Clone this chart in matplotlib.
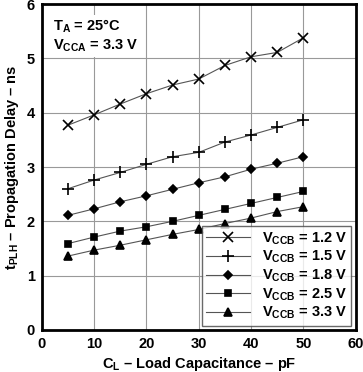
import matplotlib
matplotlib.use('Agg')
import matplotlib.pyplot as plt

plt.rcParams['font.family'] = ['Liberation Sans', 'DejaVu Sans']
plt.rcParams['font.weight'] = 'bold'
plt.rcParams['mathtext.fontset'] = 'custom'
plt.rcParams['mathtext.rm'] = 'Liberation Sans:bold'
plt.rcParams['mathtext.bf'] = 'Liberation Sans:bold'

cap = [5, 10, 15, 20, 25, 30, 35, 40, 45, 50]
vccb_12 = [3.77, 3.96, 4.16, 4.35, 4.51, 4.62, 4.87, 5.03, 5.11, 5.38]
vccb_15 = [2.60, 2.76, 2.90, 3.05, 3.19, 3.27, 3.46, 3.59, 3.73, 3.87]
vccb_18 = [2.11, 2.23, 2.36, 2.47, 2.59, 2.71, 2.82, 2.96, 3.07, 3.19]
vccb_25 = [1.59, 1.71, 1.82, 1.90, 2.00, 2.11, 2.22, 2.33, 2.44, 2.55]
vccb_33 = [1.36, 1.47, 1.56, 1.66, 1.76, 1.85, 1.96, 2.06, 2.18, 2.27]
labels = ['1.2 V', '1.5 V', '1.8 V', '2.5 V', '3.3 V']

fig = plt.figure(figsize=(3.63, 3.72), dpi=100)
ax = fig.add_axes([0.115, 0.113, 0.865, 0.876])

series = [(vccb_12, 'x', 7), (vccb_15, '+', 8), (vccb_18, 'D', 4.5),
          (vccb_25, 's', 5), (vccb_33, '^', 5.5)]
for (vals, mk, ms), lab in zip(series, labels):
    ax.plot(cap, vals, color='#555555', lw=0.8, marker=mk, ms=ms,
            mfc='black', mec='black', mew=1.2,
            label=r'$\mathregular{V_{CCB}}$' + ' = ' + lab)

ax.set_xlim(0, 60)
ax.set_ylim(0, 6)
ax.set_xticks(range(0, 61, 10))
ax.set_yticks(range(0, 7))
ax.grid(True, color='#999999', lw=0.8)
ax.tick_params(length=0, labelsize=10.5, pad=5)
for lbl in ax.get_xticklabels() + ax.get_yticklabels():
    lbl.set_fontweight('bold')
for s in ax.spines.values():
    s.set_linewidth(2)

ax.set_xlabel(r'$\mathregular{C_L}$ – Load Capacitance – pF', fontsize=10.5,
              fontweight='bold')
ax.xaxis.set_label_coords(0.5, -0.078)
ax.set_ylabel(r'$\mathregular{t_{PLH}}$ – Propagation Delay – ns', fontsize=10.5,
              fontweight='bold', labelpad=4)

ax.text(2.2, 5.75, r'$\mathregular{T_A}$ = 25°C' + '\n' + r'$\mathregular{V_{CCA}}$ = 3.3 V',
        fontsize=10.5, fontweight='bold', va='top', ha='left',
        bbox=dict(facecolor='white', edgecolor='none', pad=2), linespacing=1.2)

leg = ax.legend(loc='lower right', fontsize=10.5, frameon=True, fancybox=False,
                edgecolor='#444444', borderaxespad=0.3, handlelength=3,
                labelspacing=0.15, borderpad=0.3)
leg.get_frame().set_linewidth(1.0)

fig.savefig('out.png', dpi=100)
